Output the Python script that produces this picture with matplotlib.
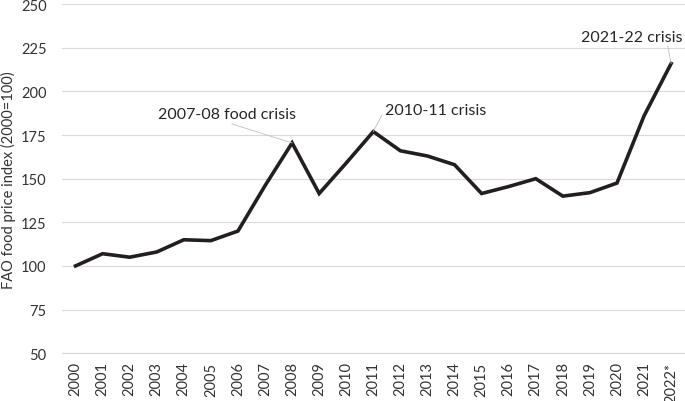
import numpy as np
import matplotlib
matplotlib.use("Agg")
import matplotlib.pyplot as plt

# data
years = ["2000", "2001", "2002", "2003", "2004", "2005", "2006", "2007", "2008",
         "2009", "2010", "2011", "2012", "2013", "2014", "2015", "2016", "2017",
         "2018", "2019", "2020", "2021", "2022*"]
index = [100, 107, 105, 108, 115, 114.5, 120, 146, 170.5, 141.5, 159, 177,
         166, 163, 158, 141.5, 145.5, 150, 140, 142, 147.5, 186, 216]
y_ticks = [50, 75, 100, 125, 150, 175, 200, 225, 250]

plt.rcParams['font.family'] = ['Lato', 'DejaVu Sans']

fig = plt.figure(figsize=(6.85, 4.02), dpi=100)
ax = fig.add_axes([0.0905, 0.119, 0.909, 0.868])

x = np.arange(len(years))
ax.plot(x, index, color='#231f20', linewidth=2.6, solid_joinstyle='miter', zorder=3)

ax.set_xlim(-0.5, len(years) - 0.5)
ax.set_ylim(50, 250)
ax.set_yticks(y_ticks)
ax.set_xticks(x)
ax.set_xticklabels(years, rotation=90)
ax.tick_params(axis='y', length=0, pad=11, labelsize=10.5, labelcolor='#333333')
ax.tick_params(axis='x', length=0, pad=6, labelsize=10.5, labelcolor='#333333')
ax.grid(axis='y', color='#d9d9d9', linewidth=0.8)
ax.set_axisbelow(True)
for s in ['top', 'right', 'left']:
    ax.spines[s].set_visible(False)
ax.spines['bottom'].set_color('#d9d9d9')
ax.spines['bottom'].set_linewidth(0.8)

ax.set_ylabel("FAO food price index (2000=100)", fontsize=10.5, color='#333333')
ax.yaxis.set_label_coords(-0.074, 0.5)

# annotations with thin leader lines
lead = dict(arrowstyle='-', color='#bfbfbf', linewidth=0.6, shrinkA=0, shrinkB=0)
ax.annotate("2007-08 food crisis", xy=(8, index[8]), xytext=(5.6, 187),
            fontsize=11.5, color='#262626', ha='center', va='center',
            arrowprops=dict(lead, relpos=(0.47, 0.0)))
ax.annotate("2010-11 crisis", xy=(11, index[11]), xytext=(11.42, 189.5),
            fontsize=11.5, color='#262626', ha='left', va='center',
            arrowprops=dict(lead, relpos=(0.0, 0.5)))
ax.annotate("2021-22 crisis", xy=(22, index[22]), xytext=(22.42, 231.5),
            fontsize=11.5, color='#262626', ha='right', va='center',
            arrowprops=dict(lead, relpos=(0.85, 0.0)))

fig.savefig("out.png", dpi=100)
